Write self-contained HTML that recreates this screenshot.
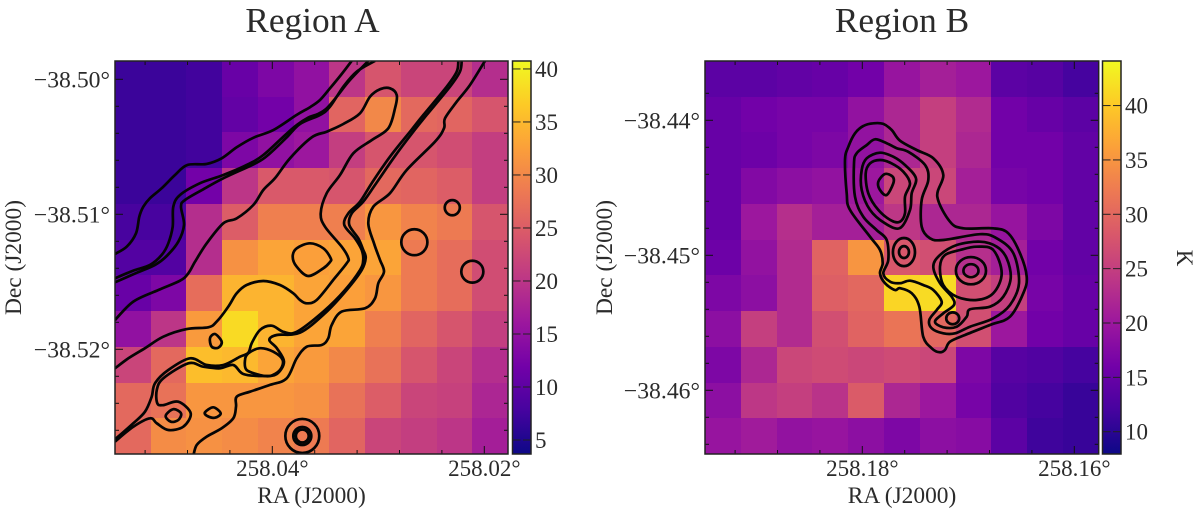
<!DOCTYPE html>
<html><head><meta charset="utf-8">
<style>
html,body{margin:0;padding:0;background:#fff;width:1200px;height:515px;overflow:hidden}
svg{display:block}
text{font-family:"Liberation Serif",serif;fill:#2b2b2b}
</style></head>
<body>
<svg id="fig" width="1200" height="515" viewBox="0 0 1200 515" xmlns="http://www.w3.org/2000/svg">
<defs>
<linearGradient id="plasma" x1="0" y1="1" x2="0" y2="0">
<stop offset="0" stop-color="#0d0887"/><stop offset="0.1111" stop-color="#46039f"/><stop offset="0.2222" stop-color="#7201a8"/><stop offset="0.3333" stop-color="#9c179e"/><stop offset="0.4444" stop-color="#bd3786"/><stop offset="0.5556" stop-color="#d8576b"/><stop offset="0.6667" stop-color="#ed7953"/><stop offset="0.7778" stop-color="#fb9f3a"/><stop offset="0.8889" stop-color="#fdca26"/><stop offset="1" stop-color="#f0f921"/>
</linearGradient>
<clipPath id="clipA"><rect x="115" y="61" width="393" height="393"/></clipPath>
<clipPath id="clipB"><rect x="705" y="61" width="393.7" height="393"/></clipPath>
</defs>
<text x="312.5" y="32" font-size="35.3" text-anchor="middle">Region A</text>
<text x="902" y="32" font-size="35.3" text-anchor="middle">Region B</text>
<text x="311.5" y="503" font-size="23.4" text-anchor="middle">RA (J2000)</text>
<text x="902" y="503" font-size="23.4" text-anchor="middle">RA (J2000)</text>
<text transform="translate(21,257.5) rotate(-90)" font-size="23.4" text-anchor="middle">Dec (J2000)</text>
<text transform="translate(612,257.5) rotate(-90)" font-size="23.4" text-anchor="middle">Dec (J2000)</text>
<text transform="translate(1177,258) rotate(90)" font-size="23" text-anchor="middle">K</text>
<g id="layer"></g>
</svg>
<script>
// Brightness maps (K), rows top to bottom, columns left to right
const heatA = [
[7,7,7.5,11,13,15,20,24,22,22,19],
[7,7,7.5,10.5,12,15,26,30,26.5,26,24],
[7,7,7.5,13,15,16,21,24,24,23,21],
[7,7,12,20,24.5,24.5,24,26.5,26,25,21],
[8,8,19,25,29,29,29,31.5,29.5,28.5,24],
[9,9,19,31,33,32.5,33,33,28.5,27,23],
[11,13,27,34.5,34.5,33,32.5,31.5,28.5,27,23],
[15,20,32,38,34.5,33,33,29,26,24,21],
[22,26.5,35.5,35,33,32,30,27.5,24,22,19],
[26.5,27.5,31.5,31.5,31.5,31,27.5,25,22,21.5,18],
[26.5,30.5,31,30.5,29.5,28.5,26,22,21,20,17]
];
const heatB = [
[14,14,14.5,15,16,19.5,21,20,14,13.5,12],
[15,16,16.5,16.5,19,22,25,22.5,16,15,14],
[15,15.5,16.5,17,19,22,25,22,16,16,14.5],
[15,17.5,18.5,19,20,26,26,21,16.5,16,14.5],
[15,20,23,21,21,24,22,22,19.5,17,14.5],
[15.5,19,22.5,29.5,35,28,27,23,21,16,14.5],
[17,18.5,22.5,29,30,41,41.5,27,25,16.5,15],
[18.5,25,22.5,27,29.5,31.5,30,27,20,16,15],
[17,22,26,26.5,26,26.5,26,17,13.5,13,12],
[18.5,24,25,23.5,28.5,22,20,16.5,13,12,11],
[19.5,20.5,19,19.5,18.5,17,18.5,18,14,11.5,11]
];
const colorRangeA = [3.68, 40.75];
const colorRangeB = [7.95, 44.1];
const plasmaStops = ["#0d0887","#46039f","#7201a8","#9c179e","#bd3786","#d8576b","#ed7953","#fb9f3a","#fdca26","#f0f921"];

// Axis ticks
const raMajorA = [258.04, 258.02];
const raMinorA = [258.052,258.048,258.044,258.036,258.032,258.028,258.024,258.016];
const decMajorA = [-38.50,-38.51,-38.52];
const decMinorA = [-38.502,-38.504,-38.506,-38.508,-38.512,-38.514,-38.516,-38.518,-38.522,-38.524,-38.526];
const raMajorB = [258.18, 258.16];
const raMinorB = [258.192,258.188,258.184,258.176,258.172,258.168,258.164];
const decMajorB = [-38.44,-38.45,-38.46];
const decMinorB = [-38.438,-38.442,-38.444,-38.446,-38.448,-38.452,-38.454,-38.456,-38.458,-38.462,-38.464];
const cbarTicksA = [5,10,15,20,25,30,35,40];
const cbarTicksB = [10,15,20,25,30,35,40];

// Contours: [RA offset, Dec offset] in units of 0.0001 deg from the reference tick
const contourA1 = [[-148.4,129.4],[-137.4,124],[-128.6,114.1],[-125.5,101.8],[-121.7,94.4],[-115.4,88.1],[-104.3,80.7],[-91.8,70.9],[-80.2,63.5],[-61.9,62.7],[-47.7,58.5],[-33.6,50.4],[-17.9,43.3],[.9,37.6],[23,26.4],[35.6,20.7],[45,15.3],[54.4,6.7],[65.5,-3.9],[74.9,-13.6]];
const contourA2 = [[-148.4,147.4],[-131.4,141.8],[-115.4,137.5],[-104.3,130.1],[-98.1,121.5],[-94,109.2],[-93.4,94.4],[-87.1,85.7],[-68.2,77],[-46.2,70.9],[-24.2,63.5],[-8.5,56.1],[10.4,42.5],[23,33.9],[34,28.4],[43.1,25.7],[51.3,21.5],[60.8,12.9],[73.3,.5],[90.6,-13.6]];
const contourA3 = [[-148.4,150.4],[-127.9,143.3],[-110.7,137.5],[-99.6,130.9],[-88.7,120.3],[-83.3,107.9],[-86.1,94.4],[-82.4,89.4],[-65.1,81.5],[-46.2,73.3],[-14.7,61.8],[-2.2,54.8],[13.6,43],[26.1,33.1],[45,26.4],[54.4,20.3],[67,5.5],[79.6,-5.6],[96.9,-13.6]];
const contourA4 = [[-148.4,178.3],[-131.1,164.7],[-107.5,156.1],[-87.1,149.2],[-79.2,143.7],[-72.9,135.1],[-61.9,121.5],[-46.2,106.7],[-33.6,103],[-17.9,93.1],[-8.5,82],[2.5,73.3],[16.7,58.5],[37.2,43],[51.3,38.8],[67,33.1],[82.7,25.2],[92.2,12.9],[101.6,7.4],[111,6.7],[117.4,11.6],[115.8,21.5],[109.4,36.3],[93.8,45],[76.4,54.8],[63.9,70.9],[51.3,84.4],[45.7,99.3],[49.7,109.2],[65.5,124],[71.7,132.4],[70.2,136.3],[57.5,148.7],[41.9,163.5],[32.5,165.9],[26.1,163.5],[19.8,158.5],[7.3,152.4],[-8.5,149.4],[-24.2,152.4],[-33.6,158.5],[-41.5,168.4],[-52.5,179.5],[-60.4,183.7],[-80.8,185],[-102.8,190.7],[-120.1,199.2],[-135.8,206.7],[-148.4,214.1]];
const contourA5 = [[35.6,121.5],[48.1,125.2],[55.1,132.6],[54.4,135.3],[48.1,140],[34,145.7],[23,138.8],[19.2,131.4],[23,125.2]];
const contourA6 = [[175.5,-13.6],[174,-5.6],[164.5,5.5],[142.5,26.4],[129.9,38.8],[111,57.3],[93.8,77],[82.7,90.7],[71.7,99.3],[67.9,107.9],[78,117.8],[84.3,126.4],[85.8,133.8],[82.7,141.3],[68.6,156.1],[48.1,172.1],[23,187],[10.4,187],[-.6,182.5],[-11.6,185.7],[-19.4,195.5],[-22.6,202.5],[-30.5,205.5],[-46.2,211.6],[-61.9,211.6],[-77.6,206.7],[-98.1,215.3],[-110.7,225.2],[-113.8,235.1],[-120.1,246.2],[-131.1,254.8],[-148.4,266.7]];
const contourA7 = [[178.7,-13.6],[177,-5.6],[167.6,5.5],[145.7,26.4],[133,38.8],[114.2,58.5],[96.9,78.3],[85.8,90.7],[74.9,99.3],[72.6,107.9],[81.1,117.8],[85.8,126.4],[88.1,132.4],[84.3,141.3],[70.2,156.1],[49.7,173.3],[26.1,187.7],[4.2,189.4],[-2.8,193.1],[4.2,199.2],[11,209.2],[4.2,218.3],[-8.5,219.8],[-27.4,218.3],[-36.8,211.6],[-49.3,214.1],[-65.1,212.9],[-79.2,210.4],[-102.8,221.5],[-109,230.1],[-108.5,240],[-102.8,241.3],[-88.7,238.8],[-77,247.4],[-84,257.3],[-98.1,259.8],[-109,254.8],[-115.4,251.1],[-131.1,257.3],[-148.4,268.4]];
const contourA8 = [[-22.6,203],[-11.6,199.2],[.9,201.8],[9.8,207.9],[7.3,215.3],[-2.2,219.8],[-11.6,219],[-24.2,215.3],[-25.8,207.9]];
const contourA9 = [[-54,188.7],[-47.7,194.4],[-50.9,198.8],[-57.2,198.1],[-58.8,191.8]];
const contourA10 = [[-93.4,244.4],[-86.1,247.4],[-88.7,252.4],[-95.8,253.6],[-100.6,249.2]];
const contourA11 = [[-55.7,243],[-48.7,247.4],[-54.1,250.7],[-61.3,249.4],[-63.5,246.7]];
const contourA12 = [[-74.5,279],[-71.3,270.9],[-61.9,264.7],[-47.7,258.5],[-36.8,251.1],[-34.2,242.5],[-33.6,235.1],[-21,231.4],[-2.2,226.4],[13.6,221.5],[23,206.7],[32.5,198.1],[46.6,196.8],[52.8,191.8],[56,182],[65.5,172.1],[87.5,169.6],[96.9,162.2],[100,151.1],[105.4,142.5],[101.6,133.8],[95.9,121.5],[90.6,106.7],[95.3,94.4],[111,84.4],[126.8,67.2],[153.5,46.2],[162,36.3],[162.9,28.9],[174,16.6],[186.5,4.2],[200.7,-13.6]];
// Compact rings: [RA offset, Dec offset, RA radius, Dec radius]
const ringsA = [[169.8,95.1,7.1,5.6],[134,120.7,12.3,9.6],[188.7,142.5,10.4,8.1],[28.3,264.2,16,12.6],[28.3,264.2,8.5,6.7],[28.3,264.2,6.1,4.8]];

const contourB1 = [[10.4,2.2],[19.8,2.7],[27.7,7.2],[35.6,15.1],[51.3,22],[67,28.1],[76.4,40.5],[70.8,56.6],[82.7,75.1],[95.3,80],[123.6,80],[137.7,83.7],[148.8,98.5],[155.1,115.8],[151.9,128.1],[139.3,145.5],[120.5,151.6],[96.9,159],[82.7,164],[78,170.1],[72.6,171.8],[65.5,168.9],[57.5,160.3],[53.8,138.1],[46.6,128.1],[35.6,124.4],[30.8,125.7],[21.4,120.7],[16.7,113.3],[19.2,105.9],[16.7,96.1],[7.3,86.2],[-11.6,66.4],[-14.7,54.1],[-16.3,29.4],[-13.2,19.6],[-6.9,9.6],[.9,4.2]];
const contourB2 = [[12,14.1],[23,17],[32.5,20.7],[43.4,23.3],[59.2,33.1],[62.3,44.2],[56,59],[56,78.8],[63.9,87.4],[76.4,88.7],[111,84.4],[126.8,87.4],[142.5,98.5],[147.8,120.7],[139.3,136.8],[123.6,146.7],[101.6,152.9],[87.5,157.8],[76.4,157.8],[65.5,154.1],[63.2,147.9],[70.2,140.5],[74.9,134.4],[67,125.7],[57.5,122],[45,118.8],[35.6,120.7],[26.1,119.5],[19.8,113.3],[24.5,103.5],[23,88.7],[13.6,81.3],[.9,71.4],[-6.9,56.6],[-7.8,31.9],[-5.3,24.4],[4.2,18.3]];
const contourB3 = [[16.7,24],[29.2,27],[40.3,33.1],[50.7,43],[46.6,54.1],[45,66.4],[35.6,79.8],[21.4,76.3],[7.3,66.4],[-.6,51.6],[-.6,36.8],[4.2,28.1]];
const contourB4 = [[16.7,29.4],[27.7,31.9],[38.7,38.1],[45,46.7],[40.3,56.6],[40.3,68.9],[35.6,75.1],[27.7,74.4],[15.1,66.4],[5.7,54.1],[3.2,39.3],[7.3,31.9]];
const contourB5 = [[21.4,39.8],[28.7,41.8],[29.2,46.7],[23,55.3],[16.7,51.6],[15.1,45.5]];
const contourB6 = [[89.1,92.4],[111,89.9],[126.8,93.6],[136.2,102.2],[140,117],[133,130.7],[120.5,138.1],[101.6,140],[98.5,145.5],[89.1,152.9],[76.4,153.3],[68.6,149.2],[76.4,143],[86.5,136.8],[84.3,130.7],[73.3,120.7],[67,108.4],[73.3,99.8]];
const contourB7 = [[92.2,96.1],[107.9,93.6],[123.6,96.1],[131.5,113.3],[123.6,128.1],[107.9,133.1],[89.1,130.7],[76.4,122],[73.3,108.4],[78,99.8]];
const ringsB = [[39.3,97.6,10.4,10.4],[39.3,97.6,4.7,4.4],[85.3,146.7,6.1,4.4],[102.5,111.4,14.2,10.1],[102.5,111.4,7.1,4.8]];

const contoursAOpen = [contourA1,contourA2,contourA3,contourA4,contourA6,contourA7,contourA12];
const contoursAClosed = [contourA5,contourA8,contourA9,contourA10,contourA11];
const contoursBClosed = [contourB1,contourB2,contourB3,contourB4,contourB5,contourB6,contourB7];

const NS = "http://www.w3.org/2000/svg";
const layer = document.getElementById("layer");
function mk(tag, parent, props){
  const e = document.createElementNS(NS, tag);
  for (const k in props) e.setAttribute(k, props[k]);
  parent.appendChild(e);
  return e;
}
function hex(c){return [1,3,5].map(i=>parseInt(c.substr(i,2),16));}
function plasma(t){
  t = Math.max(0,Math.min(1,t))*(plasmaStops.length-1);
  const i = Math.min(Math.floor(t),plasmaStops.length-2), f = t-i;
  const a = hex(plasmaStops[i]), b = hex(plasmaStops[i+1]);
  return "rgb("+a.map((v,k)=>Math.round(v+(b[k]-v)*f)).join(",")+")";
}
function smooth(pts, closed){
  const n = pts.length;
  const at = i => closed ? pts[(i+n)%n] : pts[Math.max(0,Math.min(n-1,i))];
  let d = "M"+pts[0][0].toFixed(1)+" "+pts[0][1].toFixed(1);
  const last = closed ? n : n-1;
  for (let i=0;i<last;i++){
    const p0=at(i-1),p1=at(i),p2=at(i+1),p3=at(i+2);
    d += "C"+(p1[0]+(p2[0]-p0[0])/6).toFixed(1)+" "+(p1[1]+(p2[1]-p0[1])/6).toFixed(1)+" "+
         (p2[0]-(p3[0]-p1[0])/6).toFixed(1)+" "+(p2[1]-(p3[1]-p1[1])/6).toFixed(1)+" "+
         p2[0].toFixed(1)+" "+p2[1].toFixed(1);
  }
  return d+(closed?"Z":"");
}
function label(v){return (v<0?"\u2212":"")+Math.abs(v).toFixed(2)+"\u00b0";}

function panel(cfg){
  const g = mk("g", layer, {});
  
  
  const L=cfg.left,R=cfg.right,T=61,B=454;
  const xOf = ra => cfg.x0 + (cfg.ra0-ra)*10600;
  const yOf = dec => cfg.y0 + (cfg.dec0-dec)*13500;
  const offX = u => xOf(cfg.ra0 - u*1e-4);
  const offY = v => yOf(cfg.dec0 - v*1e-4);
  // heatmap
  const heat = mk("g", g, {"shape-rendering":"crispEdges"});
  
  
  const nr=cfg.heat.length,nc=cfg.heat[0].length;
  const cw=(R-L)/nc,ch=(B-T)/nr;
  cfg.heat.forEach((row,r)=>row.forEach((val,c)=>{
    const x0=Math.round(L+c*cw),x1=Math.round(L+(c+1)*cw),y0=Math.round(T+r*ch),y1=Math.round(T+(r+1)*ch);
    const cell=mk("rect",heat,{x:x0,y:y0,width:x1-x0,height:y1-y0,fill:plasma((val-cfg.range[0])/(cfg.range[1]-cfg.range[0]))});
    
    
  }));
  // contours
  const cg = mk("g", g, {"clip-path":"url(#"+cfg.clip+")",fill:"none",stroke:"#050505","stroke-width":"2.7","stroke-linejoin":"round"});
  
  
  const toPts = c => c.map(p=>[offX(p[0]),offY(p[1])]);
  cfg.open.forEach(c=>{
    const p=mk("path",cg,{d:smooth(toPts(c),false)});
    
    
  });
  cfg.closed.forEach(c=>{
    const p=mk("path",cg,{d:smooth(toPts(c),true)});
    
    
  });
  cfg.rings.forEach(r=>{
    const e=mk("ellipse",cg,{cx:offX(r[0]),cy:offY(r[1]),rx:r[2]*1.06,ry:r[3]*1.35});
    
    
  });
  // ticks
  const tg = mk("g", g, {stroke:"#111","stroke-width":"1"});
  
  
  const tick=(x1,y1,x2,y2)=>mk("line",tg,{x1,y1,x2,y2});
  const xt=(ra,len)=>{const x=xOf(ra);tick(x,B,x,B-len);tick(x,T,x,T+len);};
  const yt=(d,len)=>{const y=yOf(d);tick(L,y,L+len,y);tick(R,y,R-len,y);};
  cfg.raMajor.forEach(v=>xt(v,8));cfg.raMinor.forEach(v=>xt(v,4));
  cfg.decMajor.forEach(v=>yt(v,8));cfg.decMinor.forEach(v=>yt(v,4));
  const frame=mk("rect",g,{x:L,y:T,width:R-L,height:B-T,fill:"none",stroke:"#222","stroke-width":"1.5"});
  
  
  // tick labels
  cfg.raMajor.forEach(v=>{
    const t=mk("text",g,{x:xOf(v),y:476,"font-size":23,"text-anchor":"middle"});
    
    
    t.textContent=label(v);
  });
  cfg.decMajor.forEach(v=>{
    const t=mk("text",g,{x:L-5,y:yOf(v)+8,"font-size":23.7,"text-anchor":"end"});
    
    
    t.textContent=label(v);
  });
  // colorbar
  const cx0=cfg.cbar,cx1=cfg.cbar+18.5;
  const cb=mk("g",g,{});
  
  
  mk("rect",cb,{x:cx0,y:T,width:cx1-cx0,height:B-T,fill:"url(#plasma)"});
  const cy=v=>B-(v-cfg.range[0])/(cfg.range[1]-cfg.range[0])*(B-T);
  cfg.cbarTicks.forEach(v=>{
    const y=cy(v);
    mk("line",cb,{x1:cx0,y1:y,x2:cx0+8,y2:y,stroke:"#222","stroke-width":"1"});
    mk("line",cb,{x1:cx1-8,y1:y,x2:cx1,y2:y,stroke:"#222","stroke-width":"1"});
    const t=mk("text",cb,{x:cx1+4,y:y+8,"font-size":23});
    
    
    t.textContent=String(v);
  });
  mk("rect",cb,{x:cx0,y:T,width:cx1-cx0,height:B-T,fill:"none",stroke:"#222","stroke-width":"1.5"});
}

panel({name:"panel-region-a",left:115,right:508,x0:272.3,ra0:258.04,y0:79.3,dec0:-38.50,clip:"clipA",cbar:512.5,
  heat:heatA,range:colorRangeA,open:contoursAOpen,closed:contoursAClosed,rings:ringsA,
  raMajor:raMajorA,raMinor:raMinorA,decMajor:decMajorA,decMinor:decMinorA,cbarTicks:cbarTicksA});
panel({name:"panel-region-b",left:705,right:1098.7,x0:862.3,ra0:258.18,y0:120.3,dec0:-38.44,clip:"clipB",cbar:1102.5,
  heat:heatB,range:colorRangeB,open:[],closed:contoursBClosed,rings:ringsB,
  raMajor:raMajorB,raMinor:raMinorB,decMajor:decMajorB,decMinor:decMinorB,cbarTicks:cbarTicksB});
</script>
</body></html>
